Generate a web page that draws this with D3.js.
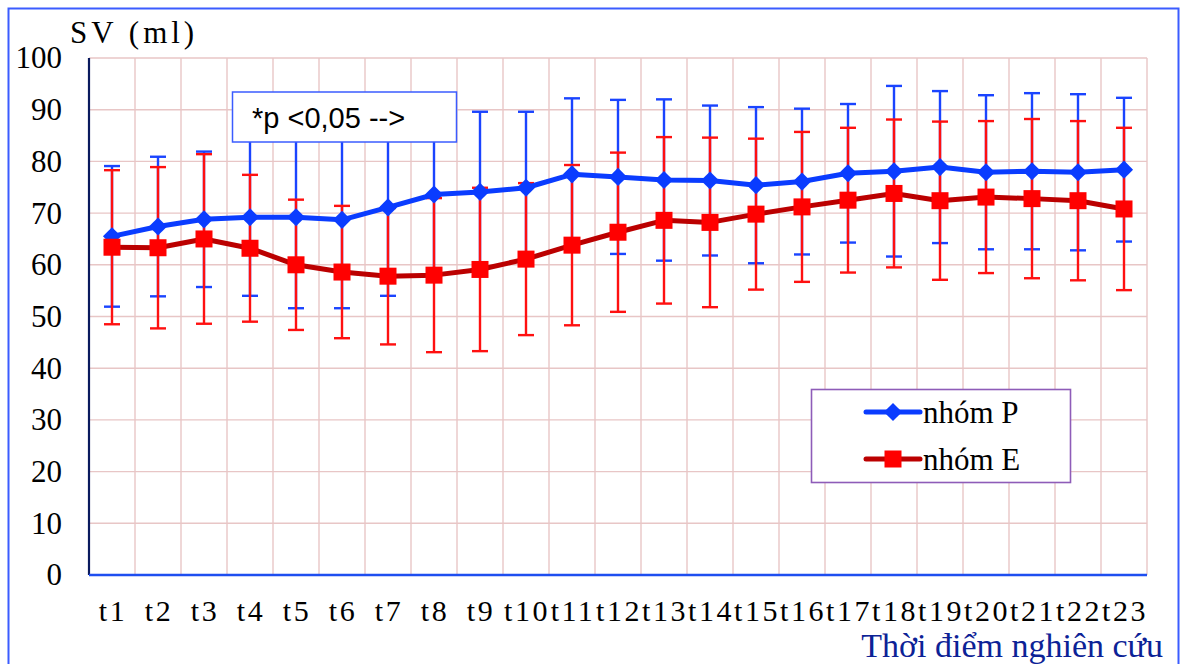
<!DOCTYPE html>
<html>
<head>
<meta charset="utf-8">
<script src="https://cdn.jsdelivr.net/npm/d3@7"></script>
<style>
  body { margin: 0; background: #fff; }
  svg { display: block; }
</style>
</head>
<body>
<script>
// Size of the page
var w = 1181;
var h = 664;

// Time points along the x axis
var timePoints = ["t1","t2","t3","t4","t5","t6","t7","t8","t9","t10","t11","t12",
                  "t13","t14","t15","t16","t17","t18","t19","t20","t21","t22","t23"];

// Mean SV (ml) for group P and its SD
var meanP = [65.5, 67.4, 68.8, 69.2, 69.2, 68.7, 71.1, 73.6, 74.1, 74.9, 77.5, 77.0,
             76.4, 76.3, 75.4, 76.1, 77.7, 78.1, 78.9, 77.9, 78.1, 77.9, 78.4];
var sdP   = [13.6, 13.5, 13.1, 15.2, 17.6, 17.1, 17.1, 16.0, 15.5, 14.7, 14.7, 14.9,
             15.6, 14.5, 15.1, 14.1, 13.4, 16.5, 14.7, 14.9, 15.1, 15.1, 13.9];

// Mean SV (ml) for group E and its SD
var meanE = [63.4, 63.3, 65.0, 63.2, 60.0, 58.6, 57.8, 58.0, 59.1, 61.1, 63.8, 66.3,
             68.6, 68.2, 69.8, 71.2, 72.5, 73.8, 72.4, 73.1, 72.8, 72.4, 70.8];
var sdE   = [14.9, 15.6, 16.4, 14.2, 12.6, 12.8, 13.2, 14.9, 15.8, 14.7, 15.5, 15.4,
             16.1, 16.4, 14.6, 14.5, 14.0, 14.3, 15.3, 14.7, 15.4, 15.4, 15.7];

var yTicks = [0, 10, 20, 30, 40, 50, 60, 70, 80, 90, 100];

var serif = "'Liberation Serif', 'Times New Roman', serif";
var sans = "'Liberation Sans', Arial, sans-serif";

var colP = "#0a3cff", colPbar = "#1a44ff";
var colEline = "#bb0000", colEmark = "#ff0000", colEbar = "#ff1010";

var svg = d3.select("body").append("svg")
    .attr("width", w)
    .attr("height", h);

// outer frame (bottom edge runs off the page)
svg.append("rect")
    .attr("x", 8.5).attr("y", 8.5)
    .attr("width", 1170).attr("height", 700)
    .attr("fill", "none")
    .attr("stroke", "#3b5cff")
    .attr("stroke-width", 2);

// plot area edges
var plotL = 89, plotR = 1147, plotT = 58, plotB = 575;

var x = d3.scaleBand()
    .domain(timePoints)
    .range([plotL, plotR]);

var y = d3.scaleLinear()
    .domain([0, 100])
    .range([plotB, plotT]);

// grid lines
var grid = svg.append("g").attr("stroke", "#e8c6c6").attr("stroke-width", 1.4);

grid.selectAll("line.h")
    .data(yTicks.slice(1))
    .enter().append("line")
    .attr("x1", plotL).attr("x2", plotR)
    .attr("y1", function(d) { return y(d); })
    .attr("y2", function(d) { return y(d); });

grid.selectAll("line.v")
    .data(timePoints.slice(1).map(function(d) { return x(d); }).concat([x.range()[1]]))
    .enter().append("line")
    .attr("x1", function(d) { return d; })
    .attr("x2", function(d) { return d; })
    .attr("y1", plotT).attr("y2", plotB);

// y axis labels
var yAxis = svg.append("g")
    .attr("transform", "translate(" + plotL + ",0)")
    .call(d3.axisLeft(y).tickValues(yTicks).tickSize(0).tickPadding(27));
yAxis.select(".domain").remove();
yAxis.attr("font-family", serif);
yAxis.selectAll("text")
    .attr("font-family", serif)
    .attr("font-size", 31)
    .attr("fill", "#000");

// x axis labels
var xAxis = svg.append("g")
    .attr("transform", "translate(0," + plotB + ")")
    .call(d3.axisBottom(x).tickSize(0).tickPadding(25));
xAxis.select(".domain").remove();
xAxis.attr("font-family", serif);
xAxis.selectAll("text")
    .attr("font-family", serif)
    .attr("font-size", 30)
    .attr("letter-spacing", "2.5px")
    .attr("dx", "1px")
    .attr("fill", "#000");

// axis lines
svg.append("line")
    .attr("x1", plotL).attr("x2", plotL)
    .attr("y1", plotT).attr("y2", plotB)
    .attr("stroke", "#0a1a5e").attr("stroke-width", 2.2);
svg.append("line")
    .attr("x1", plotL).attr("x2", plotR)
    .attr("y1", plotB).attr("y2", plotB)
    .attr("stroke", "#1e4ef0").attr("stroke-width", 2.6);

// axis titles
svg.append("text")
    .attr("x", 70).attr("y", 43)
    .attr("font-family", serif)
    .attr("font-size", 31)
    .attr("letter-spacing", "4px")
    .text("SV (ml)");

svg.append("text")
    .attr("x", 1163).attr("y", 657)
    .attr("text-anchor", "end")
    .attr("font-family", serif)
    .attr("font-size", 34)
    .attr("fill", "#0c2296")
    .text("Thời điểm nghiên cứu");

var cx = function(d, i) { return x(timePoints[i]) + x.bandwidth() / 2; };
var cap = 8;

// error bars: draws the whisker and both caps for one series
function errorBars(means, sds, color) {
    var g = svg.append("g").attr("stroke", color).attr("stroke-width", 2.4);
    var rows = means.map(function(m, i) { return {m: m, s: sds[i], i: i}; });
    g.selectAll("line.w").data(rows).enter().append("line")
        .attr("x1", function(d) { return cx(d, d.i); })
        .attr("x2", function(d) { return cx(d, d.i); })
        .attr("y1", function(d) { return y(d.m + d.s); })
        .attr("y2", function(d) { return y(d.m - d.s); });
    g.selectAll("line.u").data(rows).enter().append("line")
        .attr("x1", function(d) { return cx(d, d.i) - cap; })
        .attr("x2", function(d) { return cx(d, d.i) + cap; })
        .attr("y1", function(d) { return y(d.m + d.s); })
        .attr("y2", function(d) { return y(d.m + d.s); });
    g.selectAll("line.l").data(rows).enter().append("line")
        .attr("x1", function(d) { return cx(d, d.i) - cap; })
        .attr("x2", function(d) { return cx(d, d.i) + cap; })
        .attr("y1", function(d) { return y(d.m - d.s); })
        .attr("y2", function(d) { return y(d.m - d.s); });
}

errorBars(meanP, sdP, colPbar);
errorBars(meanE, sdE, colEbar);

var line = d3.line()
    .x(function(d, i) { return cx(d, i); })
    .y(function(d) { return y(d); });

// group P: line + diamonds
svg.append("path")
    .datum(meanP)
    .attr("d", line)
    .attr("fill", "none")
    .attr("stroke", colP)
    .attr("stroke-width", 5)
    .attr("stroke-linejoin", "round");

var diamond = d3.symbol().type(d3.symbolDiamond2).size(210);
svg.selectAll("path.p")
    .data(meanP)
    .enter().append("path")
    .attr("transform", function(d, i) { return "translate(" + cx(d, i) + "," + y(d) + ")"; })
    .attr("d", diamond)
    .attr("fill", colP);

// group E: line + squares
svg.append("path")
    .datum(meanE)
    .attr("d", line)
    .attr("fill", "none")
    .attr("stroke", colEline)
    .attr("stroke-width", 5)
    .attr("stroke-linejoin", "round");

svg.selectAll("rect.e")
    .data(meanE)
    .enter().append("rect")
    .attr("x", function(d, i) { return cx(d, i) - 8.5; })
    .attr("y", function(d) { return y(d) - 8.5; })
    .attr("width", 17).attr("height", 17)
    .attr("fill", colEmark);

// annotation box
svg.append("rect")
    .attr("x", 232.5).attr("y", 92)
    .attr("width", 224).attr("height", 50)
    .attr("fill", "#fff")
    .attr("stroke", "#3b5cff")
    .attr("stroke-width", 1.5);
svg.append("text")
    .attr("x", 252).attr("y", 128)
    .attr("font-family", sans)
    .attr("font-size", 29)
    .text("*p <0,05 -->");

// legend
var legend = svg.append("g");
legend.append("rect")
    .attr("x", 811.5).attr("y", 389.5)
    .attr("width", 259).attr("height", 93)
    .attr("fill", "#fff")
    .attr("stroke", "#8e5cb8")
    .attr("stroke-width", 1.6);

var legendItems = [
    {name: "nhóm P", line: colP, mark: "diamond", fill: colP, y: 412},
    {name: "nhóm E", line: colEline, mark: "square", fill: colEmark, y: 459}
];

legendItems.forEach(function(d) {
    legend.append("line")
        .attr("x1", 866).attr("x2", 920)
        .attr("y1", d.y).attr("y2", d.y)
        .attr("stroke", d.line)
        .attr("stroke-width", 5)
        .attr("stroke-linecap", "round");
    if (d.mark == "diamond") {
        legend.append("path")
            .attr("transform", "translate(893," + d.y + ")")
            .attr("d", diamond)
            .attr("fill", d.fill);
    } else {
        legend.append("rect")
            .attr("x", 884.5).attr("y", d.y - 8.5)
            .attr("width", 17).attr("height", 17)
            .attr("fill", d.fill);
    }
    legend.append("text")
        .attr("x", 923).attr("y", d.y + 11)
        .attr("font-family", serif)
        .attr("font-size", 31)
        .text(d.name);
});
</script>
</body>
</html>
